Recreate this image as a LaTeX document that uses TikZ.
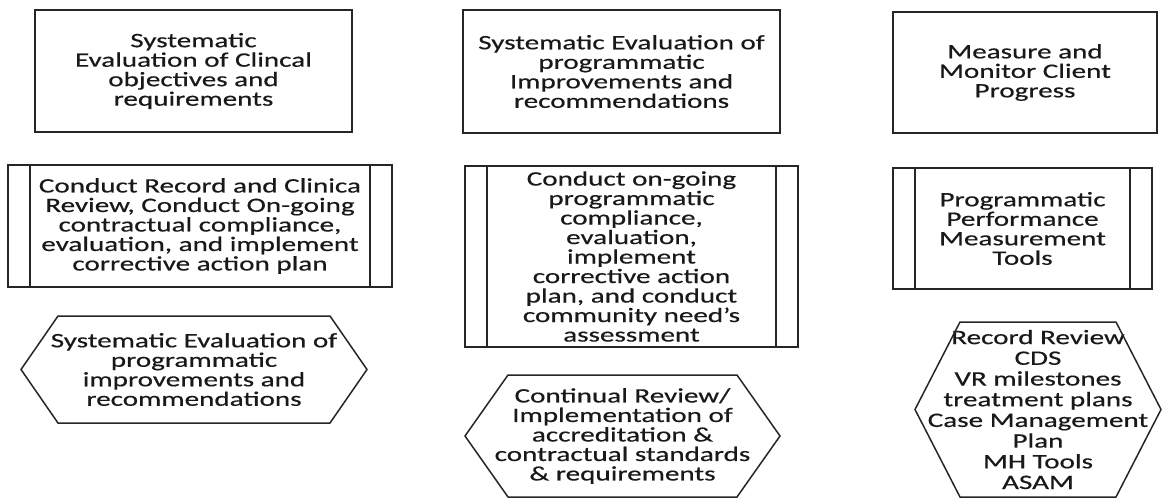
\documentclass[tikz,border=0pt]{standalone}
\usepackage{fontspec}
\setmainfont{Carlito}[FakeStretch=1.42, FakeBold=0.5]
\usetikzlibrary{positioning}

% six-sided frame round a plain node: #1 node, #2 inset of the top and bottom edges
\newcommand{\hexframe}[2]{\draw[line width=1.5pt, black!85] (#1.west) -- ([xshift=#2]#1.north west) -- ([xshift=-#2]#1.north east) -- (#1.east) -- ([xshift=-#2]#1.south east) -- ([xshift=#2]#1.south west) -- cycle;}

\begin{document}
\begin{tikzpicture}[x=1pt, y=-1pt, font=\fontsize{20.5}{19.5}\selectfont]
\tikzstyle{box}=[draw=black!85, line width=1.5pt, align=center, text=black!90, inner sep=0pt, outer sep=0pt]
\tikzstyle{procbox}=[box, path picture={
  \draw[line width=1.5pt, black!85] ([xshift=22pt]path picture bounding box.north west) -- ([xshift=22pt]path picture bounding box.south west)
    ([xshift=-22pt]path picture bounding box.north east) -- ([xshift=-22pt]path picture bounding box.south east);}]
\tikzstyle{hexbox}=[align=center, text=black!90, inner sep=0pt, outer sep=0pt]
\useasboundingbox (0,0) rectangle (1163,498);

% clinical column
\node[box, minimum width=317pt, minimum height=122pt] (clin) at (193.5,71) {Systematic\\Evaluation of Clincal\\objectives and\\requirements};
\node[procbox, minimum width=384pt, minimum height=122pt, below=33pt of clin, xshift=6.5pt] (review) {Conduct Record and Clinica\\Review, Conduct On-going\\contractual compliance,\\evaluation, and implement\\corrective action plan};
\node[hexbox, minimum width=346pt, minimum height=107pt, below=29pt of review, xshift=-6pt] (sysev) {Systematic Evaluation of\\programmatic\\improvements and\\recommendations};
\hexframe{sysev}{37pt}

% programmatic column
\node[box, minimum width=317pt, minimum height=123pt] (prog) at (621.5,71.5) {Systematic Evaluation of\\programmatic\\Improvements and\\recommendations};
\node[procbox, minimum width=333pt, minimum height=181pt, below=33pt of prog, xshift=10pt] (comply) {Conduct on-going\\programmatic\\compliance,\\evaluation,\\implement\\corrective action\\plan, and conduct\\community need’s\\assessment};
\node[hexbox, minimum width=315pt, minimum height=122pt, below=28pt of comply, xshift=-9pt] (accred) {Continual Review/\\Implementation of\\accreditation \&\\contractual standards\\\& requirements};
\hexframe{accred}{43pt}

% client column
\node[box, minimum width=264pt, minimum height=121pt] (client) at (1025,72.5) {Measure and\\Monitor Client\\Progress};
\node[procbox, minimum width=259pt, minimum height=121pt, below=35pt of client, xshift=-2.5pt] (perf) {Programmatic\\Performance\\Measurement\\Tools};
\node[hexbox, minimum width=246pt, minimum height=175pt, below=33pt of perf, xshift=15.5pt, font=\fontsize{20.5}{20.7}\selectfont] (tools) {Record Review\\CDS\\VR milestones\\treatment plans\\Case Management\\Plan\\MH Tools\\ASAM};
\hexframe{tools}{45pt}
\end{tikzpicture}
\end{document}
